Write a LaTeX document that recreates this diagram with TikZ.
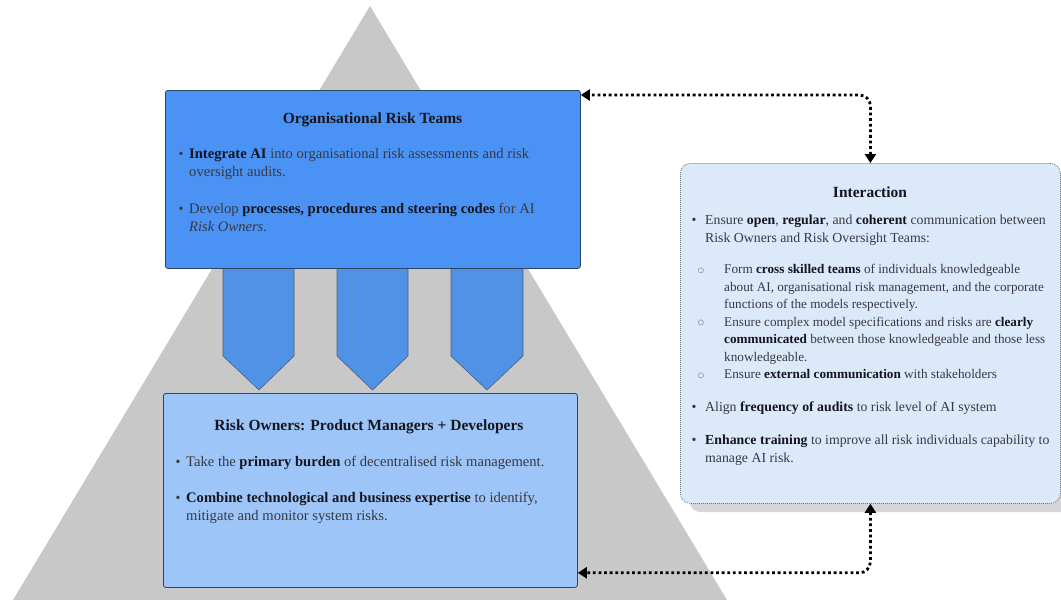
\documentclass[tikz,border=0pt]{standalone}
\usepackage{fontspec}
\setmainfont{Liberation Serif}
\usetikzlibrary{arrows.meta,calc}
\definecolor{tri}{HTML}{C8C8C8}
\definecolor{orgfill}{HTML}{4A93F5}
\definecolor{chev}{HTML}{5092E6}
\definecolor{ownfill}{HTML}{9EC5F7}
\definecolor{intfill}{HTML}{DCE9FB}
\definecolor{bordr}{HTML}{2E4464}
\definecolor{txt}{HTML}{383842}
\definecolor{kwc}{HTML}{15151F}
\definecolor{shad}{HTML}{D6D6DA}
\definecolor{dotline}{HTML}{7A7A80}
\newcommand{\kw}[1]{\textcolor{kwc}{\textbf{#1}}}
\newcommand{\subdot}{\textcolor{gray}{$\circ$}}
\begin{document}
\begin{tikzpicture}[x=1pt,y=-1pt,
  box/.style={draw=bordr, line width=0.8pt, rounded corners=2.5pt, inner sep=0pt, anchor=north west},
  ttl/.style={font=\fontsize{15.5}{18}\selectfont\bfseries, text=kwc, inner sep=0pt, anchor=base},
  para/.style={font=\fontsize{14.6}{18}\selectfont, text=txt, align=left, inner sep=0pt, anchor=north west},
  ipara/.style={para, font=\fontsize{13.8}{18}\selectfont},
  subpara/.style={para, font=\fontsize{13.2}{17.5}\selectfont},
  bdot/.style={font=\fontsize{14}{18}\selectfont, text=txt, inner sep=0pt, anchor=base},
  chevron/.style={fill=chev, draw=bordr!85, line width=0.6pt},
  conn/.style={line width=2.8pt, dash pattern=on 2.8pt off 2.8pt, rounded corners=11pt,
    {Triangle[length=9pt,width=11pt]}-{Triangle[length=9pt,width=11pt]}}
]
\useasboundingbox (0,0) rectangle (1061,600);
% triangle
\fill[tri] (370,6) -- (727,600) -- (13,600) -- cycle;
% chevrons
\filldraw[chevron] (223,268) -- (294,268) -- (294,356) -- (259,390) -- (223,356) -- cycle;
\filldraw[chevron] (337,268) -- (408,268) -- (408,356) -- (372.5,390) -- (337,356) -- cycle;
\filldraw[chevron] (451,268) -- (523,268) -- (523,356) -- (487,390) -- (451,356) -- cycle;
% boxes
\node[box, fill=orgfill, minimum width=415pt, minimum height=178pt] (org) at (165,90) {};
\node[box, fill=ownfill, minimum width=414pt, minimum height=194pt] (own) at (163,393) {};
\fill[shad, rounded corners=10pt] (690,172) rectangle (1072,512);
\node[box, fill=intfill, draw=dotline, dash pattern=on 1pt off 1pt, rounded corners=10pt,
  minimum width=380pt, minimum height=340pt] (inter) at (680,163) {};

% Organisational Risk Teams
\node[ttl] (orgT) at (372.5,123) {Organisational Risk Teams};
\node[bdot] (o1b) at (181,158) {\textbullet};
\node[para] (o1) at (189,148) {\kw{Integrate AI} into organisational risk assessments and risk\\oversight audits.};
\node[bdot] (o2b) at (181,213) {\textbullet};
\node[para] (o2) at (189,203) {Develop \kw{processes, procedures and steering codes} for AI\\\textit{Risk Owners}.};

% Risk Owners
\node[ttl] (ownT) at (369,430) {Risk Owners: Product Managers + Developers};
\node[bdot] (w1b) at (178,466) {\textbullet};
\node[para] (w1) at (186,456) {Take the \kw{primary burden} of decentralised risk management.};
\node[bdot] (w2b) at (178,502) {\textbullet};
\node[para] (w2) at (186,492) {\kw{Combine technological and business expertise} to identify,\\mitigate and monitor system risks.};

% Interaction
\node[ttl] (intT) at (870,197) {Interaction};
\node[bdot] (i1b) at (694,224) {\textbullet};
\node[ipara] (i1) at (705,214.5) {Ensure \kw{open}, \kw{regular}, and \kw{coherent} communication between\\Risk Owners and Risk Oversight Teams:};
\node[bdot] (s1b) at (701,274) {\subdot};
\node[subpara] (s1) at (724,264.5) {Form \kw{cross skilled teams} of individuals knowledgeable\\about AI, organisational risk management, and the corporate\\functions of the models respectively.};
\node[bdot] (s2b) at (701,326.5) {\subdot};
\node[subpara] (s2) at (724,317) {Ensure complex model specifications and risks are \kw{clearly}\\\kw{communicated} between those knowledgeable and those less\\knowledgeable.};
\node[bdot] (s3b) at (701,379) {\subdot};
\node[subpara] (s3) at (724,369.5) {Ensure \kw{external communication} with stakeholders};
\node[bdot] (i2b) at (694,411) {\textbullet};
\node[ipara] (i2) at (705,401.5) {Align \kw{frequency of audits} to risk level of AI system};
\node[bdot] (i3b) at (694,444) {\textbullet};
\node[ipara] (i3) at (705,434.5) {\kw{Enhance training} to improve all risk individuals capability to\\manage AI risk.};

% connectors
\coordinate (orgR) at ($(org.north east)+(0,5)$);
\coordinate (ownR) at ($(own.south east)+(0,-15)$);
\draw[conn] (inter.north) |- (orgR);
\draw[conn] (inter.south) |- (ownR);
\end{tikzpicture}
\end{document}
